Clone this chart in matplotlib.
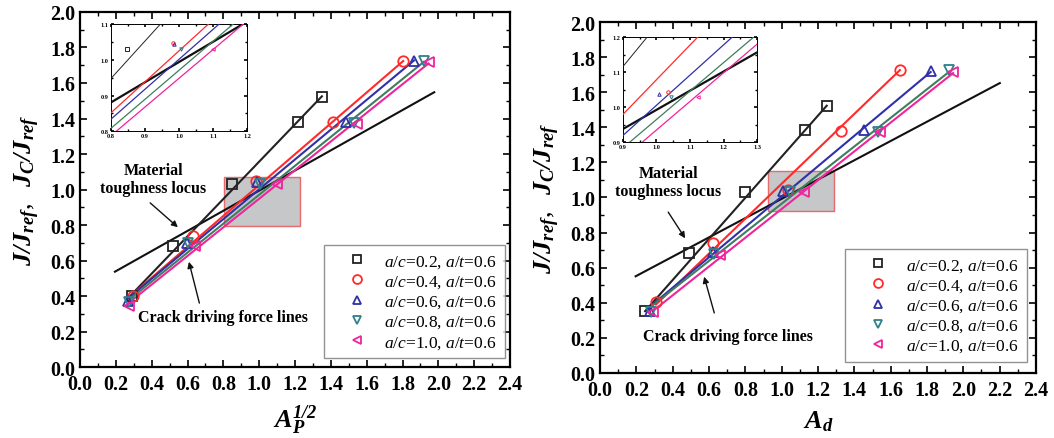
import matplotlib
matplotlib.use("Agg")
import matplotlib.pyplot as plt
from matplotlib.patches import Rectangle
from matplotlib.ticker import MultipleLocator, FormatStrFormatter

plt.rcParams['font.family'] = ['Liberation Serif', 'DejaVu Serif']
plt.rcParams['font.weight'] = 'bold'
plt.rcParams['mathtext.fontset'] = 'custom'
plt.rcParams['mathtext.rm'] = 'Liberation Serif:normal'
plt.rcParams['mathtext.it'] = 'Liberation Serif:italic:normal'
plt.rcParams['mathtext.bf'] = 'Liberation Serif:bold'
plt.rcParams['mathtext.bfit'] = 'Liberation Serif:bold:italic'

# ---------------- data ----------------
series_labels = [r'$a/c$=0.2, $a/t$=0.6', r'$a/c$=0.4, $a/t$=0.6', r'$a/c$=0.6, $a/t$=0.6',
                 r'$a/c$=0.8, $a/t$=0.6', r'$a/c$=1.0, $a/t$=0.6']
markers = ['s', 'o', '^', 'v', '<']
marker_colors = ['#222222', '#ff2a2a', '#3030a8', '#2f7f8c', '#f0249c']
line_colors = ['#222222', '#ff2a2a', '#3030a8', '#3f7d5e', '#f0249c']

# left panel: markers
left_x = [[0.29, 0.521, 0.848, 1.215, 1.349],
          [0.294, 0.629, 0.982, 1.41, 1.804],
          [0.27, 0.595, 0.986, 1.484, 1.864],
          [0.275, 0.60, 1.005, 1.529, 1.92],
          [0.273, 0.642, 1.101, 1.544, 1.945]]
left_y = [[0.40, 0.68, 1.029, 1.382, 1.523],
          [0.402, 0.736, 1.048, 1.379, 1.724],
          [0.374, 0.70, 1.044, 1.379, 1.724],
          [0.365, 0.70, 1.03, 1.375, 1.724],
          [0.345, 0.68, 1.029, 1.369, 1.717]]
# left panel: crack driving force lines (x-start, x-end), (y-start, y-end)
left_line_x = [[0.28, 1.35], [0.294, 1.804], [0.27, 1.864], [0.275, 1.92], [0.273, 1.945]]
left_line_y = [[0.40, 1.525], [0.411, 1.724], [0.388, 1.727], [0.38, 1.72], [0.362, 1.71]]
left_locus_x = [0.195, 1.977]
left_locus_y = [0.537, 1.548]
left_box = (0.805, 0.796, 1.228, 1.069)

# right panel
right_x = [[0.248, 0.49, 0.798, 1.128, 1.248],
           [0.308, 0.624, 1.036, 1.325, 1.651],
           [0.275, 0.624, 1.009, 1.453, 1.82],
           [0.28, 0.63, 1.045, 1.532, 1.923],
           [0.293, 0.66, 1.124, 1.541, 1.944]]
right_y = [[0.352, 0.682, 1.03, 1.385, 1.523],
           [0.406, 0.739, 1.044, 1.381, 1.726],
           [0.355, 0.688, 1.039, 1.385, 1.722],
           [0.35, 0.68, 1.03, 1.375, 1.726],
           [0.346, 0.674, 1.03, 1.371, 1.717]]
right_line_x = [[0.248, 1.248], [0.308, 1.651], [0.275, 1.82], [0.28, 1.923], [0.293, 1.944]]
right_line_y = [[0.352, 1.523], [0.39, 1.726], [0.378, 1.715], [0.378, 1.717], [0.355, 1.709]]
right_locus_x = [0.196, 2.201]
right_locus_y = [0.551, 1.652]
right_box = (0.927, 0.921, 1.288, 1.149)

fig = plt.figure(figsize=(10.54, 4.39), dpi=100)

TICKFS = 14.5
SERIF = 'Liberation Serif'


def style_axes(ax, fs, major, minor, length=5, spw=1.6):
    ax.tick_params(which='both', direction='in', top=True, right=True)
    ax.tick_params(which='major', length=length, width=1.2, labelsize=fs)
    ax.tick_params(which='minor', length=length * 0.55, width=1.0)
    ax.xaxis.set_major_locator(MultipleLocator(major[0]))
    ax.yaxis.set_major_locator(MultipleLocator(major[1]))
    ax.xaxis.set_minor_locator(MultipleLocator(minor[0]))
    ax.yaxis.set_minor_locator(MultipleLocator(minor[1]))
    ax.xaxis.set_major_formatter(FormatStrFormatter('%.1f'))
    ax.yaxis.set_major_formatter(FormatStrFormatter('%.1f'))
    for sp in ax.spines.values():
        sp.set_linewidth(spw)


def draw_panel(rect, mx, my, lx, ly, locx, locy, box, xlabel, inset_rect, inset_lim,
               legend_anchor, mat_text, mat_arrow, crack_text, crack_arrow):
    ax = fig.add_axes(rect)
    x0, y0, x1, y1 = box
    ax.add_patch(Rectangle((x0, y0), x1 - x0, y1 - y0, facecolor='#c6c7c9',
                           edgecolor='#e86a6a', lw=1.0, zorder=1))
    ax.plot(locx, locy, color='#111111', lw=1.5, zorder=2)
    handles = []
    for i in range(5):
        ax.plot(lx[i], ly[i], color=line_colors[i], lw=1.5, zorder=3)
        h, = ax.plot(mx[i], my[i], linestyle='none', marker=markers[i], ms=7.5,
                     mfc='none', mec=marker_colors[i], mew=1.3, zorder=4,
                     label=series_labels[i])
        handles.append(h)
    style_axes(ax, TICKFS, (0.2, 0.2), (0.1, 0.1))
    ax.set_xlim(0, 2.4)
    ax.set_ylim(0, 2.0)
    ax.tick_params(axis='x', pad=5)
    ax.set_xlabel(xlabel, fontsize=19, labelpad=6)
    ax.set_ylabel(r'$\mathbfit{J/J_{ref}},\ \ \mathbfit{J_C/J_{ref}}$', fontsize=19, labelpad=6)

    leg = ax.legend(handles=handles, loc='lower right', bbox_to_anchor=legend_anchor,
                    borderaxespad=0.0,
                    prop={'family': SERIF, 'size': 12.5, 'weight': 'normal'}, frameon=True,
                    fancybox=False, edgecolor='#777777', handlelength=2.9, handletextpad=0.15,
                    borderpad=0.45, labelspacing=0.2, markerscale=0.85)
    leg.get_frame().set_linewidth(1.0)

    ax.text(mat_text[0], mat_text[1], 'Material\ntoughness locus', ha='center', va='center',
            fontsize=11.5, fontweight='bold', linespacing=1.15, zorder=5)
    ax.annotate('', xy=mat_arrow[1], xytext=mat_arrow[0],
                arrowprops=dict(arrowstyle='-|>', color='#111111', lw=1.0, mutation_scale=9))
    ax.text(crack_text[0], crack_text[1], 'Crack driving force lines', ha='center', va='center',
            fontsize=11.5, fontweight='bold', zorder=5)
    ax.annotate('', xy=crack_arrow[1], xytext=crack_arrow[0],
                arrowprops=dict(arrowstyle='-|>', color='#111111', lw=1.0, mutation_scale=9))

    # inset
    ins = fig.add_axes(inset_rect)
    (ix0, ix1), (iy0, iy1) = inset_lim
    ins.plot(locx, locy, color='#111111', lw=1.6, zorder=2)
    for i in range(5):
        ins.plot(lx[i], ly[i], color=line_colors[i], lw=0.9 if i else 0.7, zorder=3)
        ins.plot(mx[i], my[i], linestyle='none', marker=markers[i], ms=2.5,
                 mfc='none', mec=marker_colors[i], mew=0.7, zorder=4)
    style_axes(ins, 4.5, (0.1, 0.1), (0.05, 0.05), length=2.5, spw=0.7)
    ins.set_xlim(ix0, ix1)
    ins.set_ylim(iy0, iy1)
    ins.tick_params(pad=1.5)
    return ax


draw_panel([0.0759, 0.1617, 0.408, 0.8087], left_x, left_y, left_line_x, left_line_y,
           left_locus_x, left_locus_y, left_box, r'$\mathbfit{A_P^{1/2}}$',
           [0.105, 0.6986, 0.1296, 0.2444], ((0.8, 1.2), (0.8, 1.1)),
           (0.988, 0.0245), (0.41, 1.06), ((0.38, 0.935), (0.558, 0.777)),
           (0.80, 0.28), ((0.67, 0.345), (0.604, 0.608)))

draw_panel([0.5693, 0.1481, 0.4136, 0.7995], right_x, right_y, right_line_x, right_line_y,
           right_locus_x, right_locus_y, right_box, r'$\mathbfit{A_d}$',
           [0.5908, 0.6736, 0.1277, 0.2392], ((0.9, 1.3), (0.9, 1.2)),
           (0.9787, 0.0305), (0.376, 1.087), ((0.367, 0.93), (0.477, 0.754)),
           (0.706, 0.213), ((0.633, 0.327), (0.569, 0.564)))

fig.savefig('out.png', dpi=100)
